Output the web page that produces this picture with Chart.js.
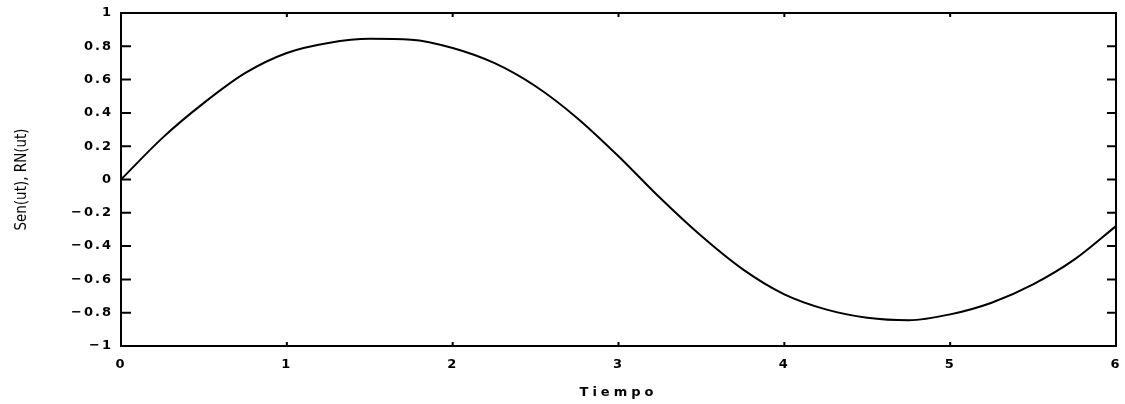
<!DOCTYPE html>
<html lang="es">
<head>
  <meta charset="UTF-8">
  <title>Sen(ut), RN(ut)</title>
  <script src="https://cdn.jsdelivr.net/npm/chart.js"></script>
  <style>
    body { margin: 0; background: #fff; }
    #wrap { width: 1125px; height: 404px; }
  </style>
</head>
<body>
  <div id="wrap"><canvas id="myChart" width="1125" height="404"></canvas></div>
  <script>
    // values
    const tiempo = [0, 0.25, 0.5, 0.75, 1, 1.25, 1.5, 1.75, 2, 2.25, 2.5, 2.75, 3,
      3.25, 3.5, 3.75, 4, 4.25, 4.5, 4.75, 5, 5.25, 5.5, 5.75, 6];
    const senal = [0, 0.25, 0.46, 0.64, 0.76, 0.82, 0.845, 0.84, 0.79, 0.70, 0.56, 0.37, 0.14,
      -0.11, -0.34, -0.54, -0.69, -0.78, -0.83, -0.845, -0.81, -0.74, -0.63, -0.48, -0.28];
    const xTicks = [0, 1, 2, 3, 4, 5, 6];
    const yTicks = [-1, -0.8, -0.6, -0.4, -0.2, 0, 0.2, 0.4, 0.6, 0.8, 1];

    const fmt = v => {
      const s = String(Math.round(v * 10) / 10);
      return s.replace('-', '\u2212');
    };

    // run a scale method with a given letter spacing
    function withSpacing(scale, method, gap) {
      const orig = scale[method];
      scale[method] = function (...args) {
        const c = this.ctx;
        const old = c.letterSpacing;
        c.letterSpacing = gap;
        orig.apply(this, args);
        c.letterSpacing = old;
      };
    }

    // wide lettering like the scanned plot, narrow y title
    const spacing = {
      id: 'spacing',
      beforeDraw(chart) { chart.ctx.letterSpacing = '2px'; },
      afterLayout(chart) {
        const { x, y } = chart.scales;
        if (y._spaced) return;
        withSpacing(y, 'drawTitle', '0px');
        withSpacing(x, 'drawTitle', '4px');
        y._spaced = true;
      }
    };

    // frame and inward ticks on all four sides
    const frame = {
      id: 'frame',
      afterDatasetsDraw(chart) {
        const { ctx, chartArea: a, scales } = chart;
        ctx.save();
        ctx.strokeStyle = '#000';
        ctx.lineWidth = 2;
        ctx.strokeRect(a.left, a.top, a.right - a.left, a.bottom - a.top);
        ctx.beginPath();
        xTicks.forEach(v => {
          const x = scales.x.getPixelForValue(v);
          ctx.moveTo(x, a.bottom); ctx.lineTo(x, a.bottom - 4);
          ctx.moveTo(x, a.top); ctx.lineTo(x, a.top + 4);
        });
        yTicks.forEach(v => {
          const y = scales.y.getPixelForValue(v);
          ctx.moveTo(a.left, y); ctx.lineTo(a.left + 10, y);
          ctx.moveTo(a.right, y); ctx.lineTo(a.right - 9, y);
        });
        ctx.stroke();
        ctx.restore();
      }
    };

    const tickFont = { family: "'DejaVu Sans', sans-serif", size: 13, weight: 'bold' };

    new Chart(document.getElementById('myChart'), {
      type: 'scatter',
      data: {
        datasets: [{
          data: tiempo.map((t, i) => ({ x: t, y: senal[i] })),
          showLine: true,
          borderColor: '#000',
          borderWidth: 2,
          pointRadius: 0,
          cubicInterpolationMode: 'monotone',
          fill: false
        }]
      },
      options: {
        responsive: false,
        animation: false,
        layout: { padding: { top: 13, right: 9, left: 0, bottom: 0 } },
        plugins: { legend: { display: false }, tooltip: { enabled: false } },
        scales: {
          x: {
            type: 'linear', min: 0, max: 6,
            afterBuildTicks: s => { s.ticks = xTicks.map(v => ({ value: v })); },
            afterFit: s => { s.height = 58; },
            grid: { display: false },
            border: { display: false },
            ticks: { color: '#000', font: tickFont, padding: 3, callback: fmt },
            title: {
              display: true, text: 'Tiempo', color: '#000',
              font: { family: "'DejaVu Sans', sans-serif", size: 13, weight: 'bold' },
              padding: { top: 5 }
            }
          },
          y: {
            type: 'linear', min: -1, max: 1,
            afterBuildTicks: s => { s.ticks = yTicks.map(v => ({ value: v })); },
            afterFit: s => { s.width = 121; },
            grid: { display: false },
            border: { display: false },
            ticks: { color: '#000', font: tickFont, padding: 0, callback: fmt },
            title: {
              display: true, text: 'Sen(ut), RN(ut)', color: '#000',
              font: { family: "'DejaVu Sans Condensed', 'Liberation Sans Narrow', sans-serif", size: 15 },
              padding: { top: 13, bottom: 10 }
            }
          }
        }
      },
      plugins: [spacing, frame]
    });
  </script>
</body>
</html>
